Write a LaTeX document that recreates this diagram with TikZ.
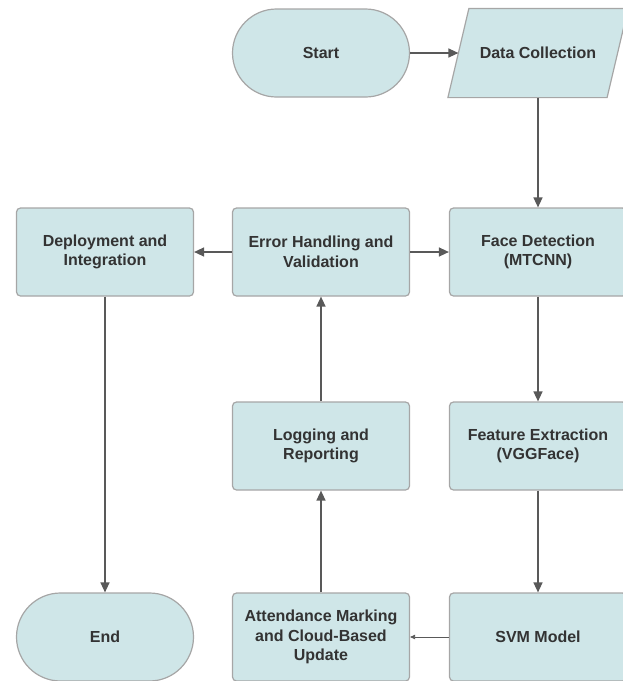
\documentclass[tikz,border=0pt]{standalone}
\usepackage{fontspec}
\setmainfont{Liberation Sans}
\usetikzlibrary{arrows.meta,positioning,backgrounds}
\definecolor{boxfill}{HTML}{CFE6E8}
\definecolor{boxline}{HTML}{A6A6A6}
\definecolor{linegray}{HTML}{595959}
\definecolor{textgray}{HTML}{333333}
\tikzset{
    process/.style={
           rectangle,
           rounded corners=4pt,
           draw=boxline, fill=boxfill, line width=1.2pt,
           minimum width=177pt,
           minimum height=88pt,
           inner sep=2pt,
           align=center,
           text=textgray,
           font=\bfseries\fontsize{16}{19.5}\selectfont,
           },
    terminal/.style={process, rounded corners=44pt},
    io/.style={process, draw=none, fill=none, minimum width=158pt},
    slanted/.style={draw=boxline, fill=boxfill, line width=1.2pt},
    flow/.style={draw=linegray, line width=1.4pt, -{Triangle[length=10pt,width=9pt]}},
    thinflow/.style={draw=linegray, line width=0.8pt, -{Triangle[length=5pt,width=4.5pt]}},
}

\begin{document}
\begin{tikzpicture}
    \useasboundingbox (0,0) rectangle (623pt,-681pt);

    % top row
    \node[terminal, anchor=center] (start) at (321pt,-53pt) {Start};
    \node[io, right of=start, node distance=217pt] (collect) {Data Collection};
    % parallelogram behind the io node
    \begin{scope}[on background layer]
        \draw[slanted] ([xshift=-10.5pt]collect.south west)
            -- ([xshift=-10.5pt]collect.south east)
            -- ([xshift=10.5pt]collect.north east)
            -- ([xshift=10.5pt]collect.north west) -- cycle;
    \end{scope}

    % right column, going down
    \node[process, below of=collect, node distance=199pt] (detect)
        {Face Detection\\(MTCNN)};
    \node[process, below of=detect, node distance=194pt] (extract)
        {Feature Extraction\\(VGGFace)};
    \node[process, below of=extract, node distance=191pt] (svm) {SVM Model};

    % middle column, going up
    \node[process, left of=svm, node distance=217pt] (attend)
        {Attendance Marking\\and Cloud-Based\\Update};
    \node[process, above of=attend, node distance=191pt] (logging)
        {Logging and\\Reporting};
    \node[process, above of=logging, node distance=194pt] (error)
        {Error Handling and\\Validation};

    % left column
    \node[process, left of=error, node distance=216pt] (deploy)
        {Deployment and\\Integration};
    \node[terminal, below of=deploy, node distance=385pt] (end) {End};

    % connectors
    \path
        (start)   edge[flow] (collect)
        (collect) edge[flow] (detect)
        (detect)  edge[flow] (extract)
        (extract) edge[flow] (svm)
        (svm)     edge[thinflow] (attend)
        (attend)  edge[flow] (logging)
        (logging) edge[flow] (error)
        (error)   edge[flow] (detect)
        (error)   edge[flow] (deploy)
        (deploy)  edge[flow] (end);
\end{tikzpicture}
\end{document}
